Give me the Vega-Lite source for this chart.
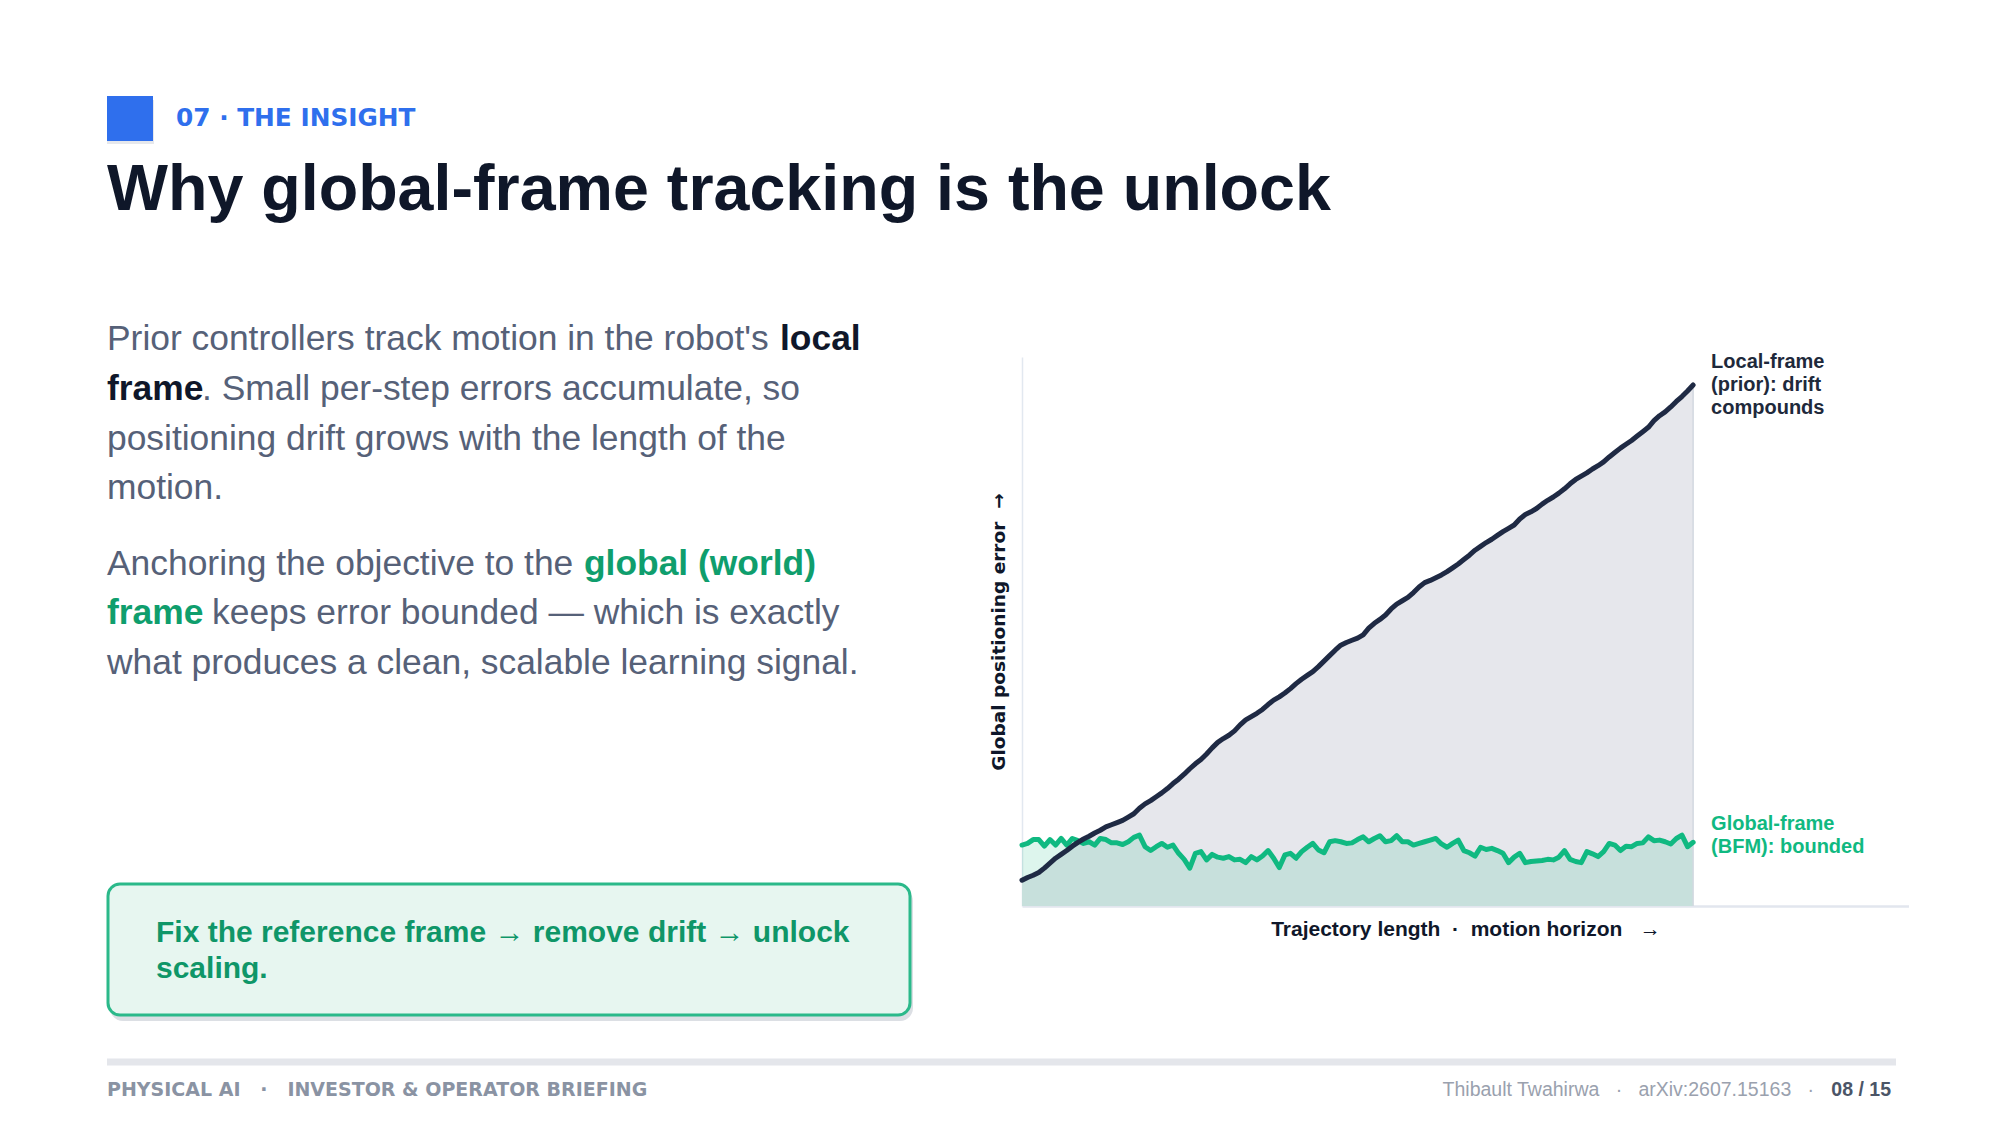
{
  "$schema": "https://vega.github.io/schema/vega-lite/v6.json",
  "background": "#ffffff",
  "padding": 0,
  "bounds": "flush",
  "spacing": 0,
  "config": {
    "view": {"stroke": null},
    "text": {"font": "Liberation Sans"},
    "axis": {"titleFont": "Liberation Sans"}
  },
  "datasets": {
    "drift": [
      {"step":0,"local":4.7,"global":11.1},{"step":1,"local":5.2,"global":11.4},{"step":2,"local":5.6,"global":12.1},{"step":3,"local":6.1,"global":12.1},{"step":4,"local":6.9,"global":10.9},
      {"step":5,"local":7.8,"global":12.1},{"step":6,"local":8.7,"global":11.1},{"step":7,"local":9.4,"global":12.3},{"step":8,"local":10.1,"global":11.1},{"step":9,"local":10.9,"global":12.3},
      {"step":10,"local":11.6,"global":11.9},{"step":11,"local":12.2,"global":11.4},{"step":12,"local":12.7,"global":11.7},{"step":13,"local":13.3,"global":11.1},{"step":14,"local":13.8,"global":12.3},
      {"step":15,"local":14.4,"global":12.1},{"step":16,"local":14.8,"global":11.5},{"step":17,"local":15.2,"global":11.5},{"step":18,"local":15.6,"global":11.2},{"step":19,"local":16.2,"global":11.7},
      {"step":20,"local":16.8,"global":12.5},{"step":21,"local":17.8,"global":12.9},{"step":22,"local":18.6,"global":10.8},{"step":23,"local":19.2,"global":10.1},{"step":24,"local":19.9,"global":10.8},
      {"step":25,"local":20.6,"global":11.4},{"step":26,"local":21.4,"global":10.7},{"step":27,"local":22.3,"global":11.1},{"step":28,"local":23.1,"global":9.6},{"step":29,"local":24.0,"global":8.5},
      {"step":30,"local":25.0,"global":6.9},{"step":31,"local":25.9,"global":9.6},{"step":32,"local":26.7,"global":9.9},{"step":33,"local":27.7,"global":8.4},{"step":34,"local":28.8,"global":9.4},
      {"step":35,"local":29.8,"global":8.9},{"step":36,"local":30.5,"global":8.7},{"step":37,"local":31.1,"global":9.0},{"step":38,"local":31.9,"global":8.4},{"step":39,"local":33.0,"global":8.5},
      {"step":40,"local":33.9,"global":7.9},{"step":41,"local":34.5,"global":9.0},{"step":42,"local":35.1,"global":8.4},{"step":43,"local":35.8,"global":9.1},{"step":44,"local":36.7,"global":10.1},
      {"step":45,"local":37.5,"global":8.7},{"step":46,"local":38.1,"global":7.0},{"step":47,"local":38.8,"global":9.3},{"step":48,"local":39.6,"global":9.6},{"step":49,"local":40.5,"global":8.7},
      {"step":50,"local":41.3,"global":9.9},{"step":51,"local":42.0,"global":10.7},{"step":52,"local":42.7,"global":11.4},{"step":53,"local":43.6,"global":10.2},{"step":54,"local":44.6,"global":9.7},
      {"step":55,"local":45.6,"global":11.7},{"step":56,"local":46.6,"global":11.9},{"step":57,"local":47.5,"global":11.7},{"step":58,"local":48.0,"global":11.4},{"step":59,"local":48.4,"global":11.5},
      {"step":60,"local":48.8,"global":12.1},{"step":61,"local":49.4,"global":12.6},{"step":62,"local":50.6,"global":11.7},{"step":63,"local":51.5,"global":12.3},{"step":64,"local":52.2,"global":12.8},
      {"step":65,"local":53.0,"global":11.7},{"step":66,"local":54.1,"global":11.9},{"step":67,"local":55.0,"global":12.8},{"step":68,"local":55.6,"global":11.7},{"step":69,"local":56.2,"global":11.7},
      {"step":70,"local":57.1,"global":11.1},{"step":71,"local":58.1,"global":11.4},{"step":72,"local":58.9,"global":11.7},{"step":73,"local":59.3,"global":12.0},{"step":74,"local":59.8,"global":12.3},
      {"step":75,"local":60.3,"global":11.3},{"step":76,"local":60.9,"global":10.7},{"step":77,"local":61.6,"global":11.4},{"step":78,"local":62.3,"global":12.0},{"step":79,"local":63.1,"global":10.1},
      {"step":80,"local":63.9,"global":9.7},{"step":81,"local":64.8,"global":9.1},{"step":82,"local":65.5,"global":10.7},{"step":83,"local":66.2,"global":10.3},{"step":84,"local":66.8,"global":10.5},
      {"step":85,"local":67.5,"global":10.1},{"step":86,"local":68.2,"global":9.6},{"step":87,"local":68.8,"global":7.9},{"step":88,"local":69.4,"global":8.9},{"step":89,"local":70.5,"global":9.6},
      {"step":90,"local":71.3,"global":7.9},{"step":91,"local":71.8,"global":8.1},{"step":92,"local":72.4,"global":8.2},{"step":93,"local":73.2,"global":8.3},{"step":94,"local":73.9,"global":8.5},
      {"step":95,"local":74.5,"global":8.4},{"step":96,"local":75.2,"global":8.9},{"step":97,"local":76.0,"global":10.1},{"step":98,"local":76.9,"global":8.5},{"step":99,"local":77.7,"global":8.1},
      {"step":100,"local":78.3,"global":7.9},{"step":101,"local":78.9,"global":9.9},{"step":102,"local":79.6,"global":9.5},{"step":103,"local":80.2,"global":9.0},{"step":104,"local":80.9,"global":9.9},
      {"step":105,"local":81.8,"global":11.4},{"step":106,"local":82.6,"global":11.1},{"step":107,"local":83.4,"global":10.1},{"step":108,"local":84.1,"global":10.9},{"step":109,"local":84.8,"global":10.8},
      {"step":110,"local":85.6,"global":11.4},{"step":111,"local":86.4,"global":11.5},{"step":112,"local":87.2,"global":12.6},{"step":113,"local":88.4,"global":11.9},{"step":114,"local":89.3,"global":12.0},
      {"step":115,"local":90.0,"global":11.7},{"step":116,"local":90.9,"global":11.3},{"step":117,"local":91.9,"global":12.3},{"step":118,"local":92.8,"global":12.9},{"step":119,"local":93.8,"global":10.8},
      {"step":120,"local":94.9,"global":11.6}
    ]
  },
  "hconcat": [
    {
      "width": 1022,
      "height": 1125,
      "encoding": {
        "x": {"field": "x", "type": "quantitative", "scale": {"domain": [0, 1022], "nice": false, "zero": false}, "axis": null},
        "y": {"field": "y", "type": "quantitative", "scale": {"domain": [0, 1125], "reverse": true, "nice": false, "zero": false}, "axis": null}
      },
      "layer": [
        {
          "data": {"values": [{"x": 107, "x2": 154, "y": 100, "y2": 144}]},
          "mark": {"type": "rect", "color": "#e6e8ec"},
          "encoding": {"x2": {"field": "x2"}, "y2": {"field": "y2"}}
        },
        {
          "data": {"values": [{"x": 107, "x2": 153, "y": 96, "y2": 141}]},
          "mark": {"type": "rect", "color": "#2f6fed"},
          "encoding": {"x2": {"field": "x2"}, "y2": {"field": "y2"}}
        },
        {
          "data": {"values": [{"x": 176, "y": 119, "label": "07 · THE INSIGHT"}]},
          "mark": {"type": "text", "align": "left", "baseline": "middle", "font": "DejaVu Sans", "fontSize": 24.8, "fontWeight": "bold", "color": "#2f6fed"},
          "encoding": {"text": {"field": "label"}}
        },
        {
          "data": {"values": [{"x": 107, "y": 191, "label": "Why global-frame tracking is the unlock"}]},
          "mark": {"type": "text", "align": "left", "baseline": "middle", "fontSize": 64.6, "fontWeight": "bold", "color": "#0f1729"},
          "encoding": {"text": {"field": "label"}}
        },
        {
          "data": {"values": [
            {"x": 107, "y": 339, "label": "Prior controllers track motion in the robot's"},
            {"x": 202, "y": 389, "label": ". Small per-step errors accumulate, so"},
            {"x": 107, "y": 439, "label": "positioning drift grows with the length of the"},
            {"x": 107, "y": 488, "label": "motion."},
            {"x": 107, "y": 564, "label": "Anchoring the objective to the"},
            {"x": 212, "y": 613, "label": "keeps error bounded — which is exactly"},
            {"x": 107, "y": 663, "label": "what produces a clean, scalable learning signal."}
          ]},
          "mark": {"type": "text", "align": "left", "baseline": "middle", "fontSize": 35.4, "color": "#566178"},
          "encoding": {"text": {"field": "label"}}
        },
        {
          "data": {"values": [
            {"x": 780, "y": 339, "label": "local", "role": "local frame"},
            {"x": 107, "y": 389, "label": "frame", "role": "local frame"},
            {"x": 584, "y": 564, "label": "global (world)", "role": "global frame"},
            {"x": 107, "y": 613, "label": "frame", "role": "global frame"}
          ]},
          "mark": {"type": "text", "align": "left", "baseline": "middle", "fontSize": 35.4, "fontWeight": "bold"},
          "encoding": {
            "text": {"field": "label"},
            "color": {"field": "role", "type": "nominal", "scale": {"domain": ["local frame", "global frame"], "range": ["#0f172a", "#0f9e6d"]}, "legend": null}
          }
        },
        {
          "data": {"values": [{"x": 110, "x2": 913, "y": 888, "y2": 1021}]},
          "mark": {"type": "rect", "color": "#dcdfe4", "cornerRadius": 13},
          "encoding": {"x2": {"field": "x2"}, "y2": {"field": "y2"}}
        },
        {
          "data": {"values": [{"x": 108, "x2": 910, "y": 884, "y2": 1015}]},
          "mark": {"type": "rect", "fill": "#e7f6f0", "stroke": "#2bb98a", "strokeWidth": 3, "cornerRadius": 12},
          "encoding": {"x2": {"field": "x2"}, "y2": {"field": "y2"}}
        },
        {
          "data": {"values": [{"x": 156, "y": 933}]},
          "mark": {"type": "text", "align": "left", "baseline": "middle", "fontSize": 30, "fontWeight": "bold", "lineHeight": 36, "color": "#0f9668", "text": ["Fix the reference frame → remove drift → unlock", "scaling."]}
        },
        {
          "data": {"values": [{"x": 107, "x2": 1896, "y": 1062}]},
          "mark": {"type": "rule", "color": "#e4e6eb", "strokeWidth": 7},
          "encoding": {"x2": {"field": "x2"}}
        },
        {
          "data": {"values": [{"x": 107, "y": 1090, "label": "PHYSICAL AI\u00a0\u00a0\u00a0·\u00a0\u00a0\u00a0INVESTOR & OPERATOR BRIEFING"}]},
          "mark": {"type": "text", "align": "left", "baseline": "middle", "font": "DejaVu Sans", "fontSize": 19, "fontWeight": "bold", "color": "#8a93a3"},
          "encoding": {"text": {"field": "label"}}
        },
        {
          "data": {"values": [{"x": 1814, "y": 1090, "label": "Thibault Twahirwa\u00a0\u00a0\u00a0·\u00a0\u00a0\u00a0arXiv:2607.15163\u00a0\u00a0\u00a0·"}]},
          "mark": {"type": "text", "align": "right", "baseline": "middle", "fontSize": 19.5, "color": "#9aa1ae"},
          "encoding": {"text": {"field": "label"}}
        },
        {
          "data": {"values": [{"x": 1891, "y": 1090, "label": "08 / 15"}]},
          "mark": {"type": "text", "align": "right", "baseline": "middle", "fontSize": 19.5, "fontWeight": "bold", "color": "#4b5567"},
          "encoding": {"text": {"field": "label"}}
        }
      ]
    },
    {
      "width": 887,
      "height": 906,
      "data": {"name": "drift"},
      "encoding": {
        "x": {
          "field": "step", "type": "quantitative",
          "scale": {"domain": [0, 158.6], "nice": false, "zero": false},
          "axis": {
            "title": "Trajectory length\u00a0\u00a0·\u00a0\u00a0motion horizon\u00a0\u00a0\u00a0→",
            "titleFontSize": 21, "titleFontWeight": "bold", "titleColor": "#0f172a", "titlePadding": 12,
            "domainColor": "#e2e6ee", "domainWidth": 2.5, "ticks": false, "labels": false, "grid": false
          }
        }
      },
      "layer": [
        {
          "mark": {"type": "area", "color": "#e6e7ec"},
          "encoding": {
            "y": {
              "field": "local", "type": "quantitative",
              "scale": {"domain": [0, 100], "range": [906, 357], "nice": false, "zero": false},
              "axis": {"title": "Global positioning error\u00a0\u00a0→", "titleFont": "DejaVu Sans", "titleFontSize": 18.5, "titleFontWeight": "bold", "titleColor": "#0f172a", "titlePadding": 14, "domainColor": "#e2e8f0", "domainWidth": 1.5, "ticks": false, "labels": false, "grid": false}
            }
          }
        },
        {
          "mark": {"type": "area", "color": "#10b981", "opacity": 0.14},
          "encoding": {"y": {"field": "global", "type": "quantitative", "scale": {"domain": [0, 100], "range": [906, 357], "nice": false, "zero": false},
            "axis": {"title": "Global positioning error\u00a0\u00a0→", "titleFont": "DejaVu Sans", "titleFontSize": 18.5, "titleFontWeight": "bold", "titleColor": "#0f172a", "titlePadding": 14, "domainColor": "#e2e8f0", "domainWidth": 1.5, "ticks": false, "labels": false, "grid": false}}}
        },
        {
          "transform": [{"filter": "datum.step == 120"}],
          "mark": {"type": "rule", "color": "#d3d8e0", "strokeWidth": 1.5},
          "encoding": {
            "y": {"field": "local", "type": "quantitative", "scale": {"domain": [0, 100], "range": [906, 357], "nice": false, "zero": false},
              "axis": {"title": "Global positioning error\u00a0\u00a0→", "titleFont": "DejaVu Sans", "titleFontSize": 18.5, "titleFontWeight": "bold", "titleColor": "#0f172a", "titlePadding": 14, "domainColor": "#e2e8f0", "domainWidth": 1.5, "ticks": false, "labels": false, "grid": false}},
            "y2": {"datum": 0}
          }
        },
        {
          "mark": {"type": "line", "color": "#10b981", "strokeWidth": 5, "strokeJoin": "round", "strokeCap": "round"},
          "encoding": {"y": {"field": "global", "type": "quantitative", "scale": {"domain": [0, 100], "range": [906, 357], "nice": false, "zero": false},
            "axis": {"title": "Global positioning error\u00a0\u00a0→", "titleFont": "DejaVu Sans", "titleFontSize": 18.5, "titleFontWeight": "bold", "titleColor": "#0f172a", "titlePadding": 14, "domainColor": "#e2e8f0", "domainWidth": 1.5, "ticks": false, "labels": false, "grid": false}}}
        },
        {
          "mark": {"type": "line", "color": "#1f2a44", "strokeWidth": 5, "strokeJoin": "round", "strokeCap": "round"},
          "encoding": {"y": {"field": "local", "type": "quantitative", "scale": {"domain": [0, 100], "range": [906, 357], "nice": false, "zero": false},
            "axis": {"title": "Global positioning error\u00a0\u00a0→", "titleFont": "DejaVu Sans", "titleFontSize": 18.5, "titleFontWeight": "bold", "titleColor": "#0f172a", "titlePadding": 14, "domainColor": "#e2e8f0", "domainWidth": 1.5, "ticks": false, "labels": false, "grid": false}}}
        },
        {
          "transform": [{"filter": "datum.step == 120"}],
          "mark": {"type": "text", "align": "left", "baseline": "middle", "dx": 18, "dy": -23, "fontSize": 20, "fontWeight": "bold", "lineHeight": 23, "color": "#1e293b", "text": ["Local-frame", "(prior): drift", "compounds"]},
          "encoding": {"y": {"field": "local", "type": "quantitative", "scale": {"domain": [0, 100], "range": [906, 357], "nice": false, "zero": false},
            "axis": {"title": "Global positioning error\u00a0\u00a0→", "titleFont": "DejaVu Sans", "titleFontSize": 18.5, "titleFontWeight": "bold", "titleColor": "#0f172a", "titlePadding": 14, "domainColor": "#e2e8f0", "domainWidth": 1.5, "ticks": false, "labels": false, "grid": false}}}
        },
        {
          "transform": [{"filter": "datum.step == 120"}],
          "mark": {"type": "text", "align": "left", "baseline": "middle", "dx": 18, "dy": -18, "fontSize": 20, "fontWeight": "bold", "lineHeight": 23, "color": "#10b981", "text": ["Global-frame", "(BFM): bounded"]},
          "encoding": {"y": {"field": "global", "type": "quantitative", "scale": {"domain": [0, 100], "range": [906, 357], "nice": false, "zero": false},
            "axis": {"title": "Global positioning error\u00a0\u00a0→", "titleFont": "DejaVu Sans", "titleFontSize": 18.5, "titleFontWeight": "bold", "titleColor": "#0f172a", "titlePadding": 14, "domainColor": "#e2e8f0", "domainWidth": 1.5, "ticks": false, "labels": false, "grid": false}}}
        }
      ]
    }
  ]
}
